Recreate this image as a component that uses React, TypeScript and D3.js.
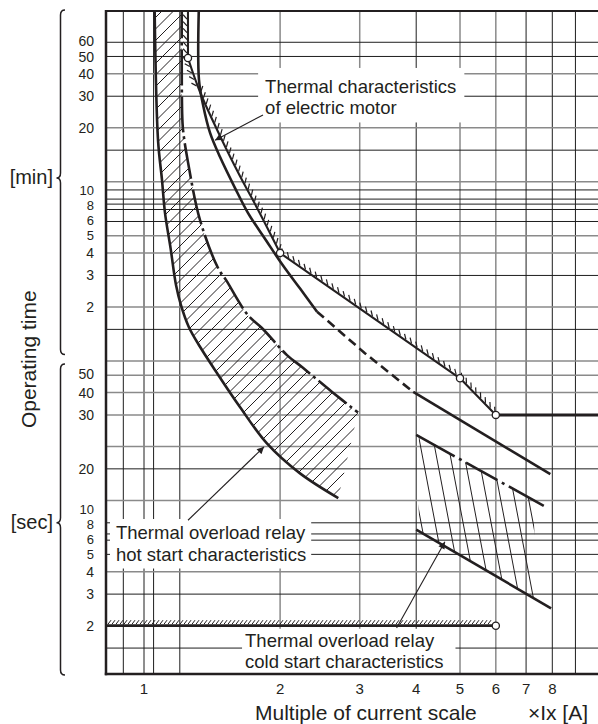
import React, { useEffect, useRef } from 'react';
import * as d3 from 'd3';

const WIDTH = 598;
const HEIGHT = 724;
const PLOT = { left: 106, top: 11, right: 600, bottom: 674 };

// current multiple (log) and operating time in seconds (log)
const X_DOMAIN = [0.824, 10.2];
const Y_DOMAIN = [5380, 1.075];

const xGridValues = [0.9, 1, 1.05, 1.2, 2, 3, 4, 5, 6, 7, 8, 9];
const xGridGray = [2, 3, 5, 6];
const xTickLabels = [1, 2, 3, 4, 5, 6, 7, 8];

const yGridMinutes = [60, 50, 40, 30, 20, 15, 10, 9, 8, 7.5, 7, 6, 5, 4, 3, 2, 1.5];
const yGridMinutesGray = [40, 20, 10, 5, 4, 2];
const yGridSeconds = [60, 50, 40, 30, 20, 15, 10, 7.5, 6.5, 6, 5, 4, 3, 1.5];
const yGridSecondsGray = [60, 50, 40, 30, 20, 10, 4];

// [text, minutes, nudge px]
const minuteLabels: [string, number, number][] = [['60', 60, -1.5], ['50', 50, 0.5], ['40', 40, 0], ['30', 30, 0], ['20', 20, 0], ['4', 4, 0], ['3', 3, 0], ['2', 2, 0]];
const minuteStack = ['10', '8', '6', '5'];
const minuteStackAnchor = 5;
// [text, seconds, nudge px]
const secondLabels: [string, number, number][] = [['50', 50, -1], ['40', 40, 0], ['30', 30, 0], ['20', 15, 0], ['4', 4, 0], ['3', 3, 0], ['2', 2, 0]];
const secondStack = ['10', '8', '6', '5'];
const secondStackAnchor = 5;

// [multiple, seconds]
const hotStartLower: [number, number][] = [
  [1.055, 6000], [1.074, 1025], [1.096, 613], [1.113, 401], [1.145, 255], [1.177, 159], [1.207, 123],
  [1.257, 92.6], [1.33, 72], [1.45, 51.4], [1.63, 33.2], [1.87, 20.8], [2.21, 14.2], [2.69, 10.3],
];
const hotStartUpper: [number, number][] = [
  [1.212, 6000], [1.214, 1507], [1.22, 1166], [1.251, 772], [1.33, 367], [1.458, 198], [1.518, 170],
  [1.698, 108], [1.823, 91.6], [2.071, 64.7], [2.236, 55.5], [2.606, 40.3], [2.974, 30.9],
];
const motorVertical: [number, number][] = [[1.251, 6000], [1.251, 2940]];
const motorCurve: [number, number][] = [[1.251, 2940], [1.33, 1900], [1.488, 1023], [1.63, 646], [1.787, 419], [2, 240]];
const motorStraight: [number, number][] = [[2, 240], [5, 48], [6, 30]];
const motorFlat: [number, number][] = [[6, 30], [10.5, 30]];
const motorSideSwitch = 1950;

const relaySolidA: [number, number][] = [
  [1.323, 6000], [1.323, 2218], [1.351, 1609], [1.4, 1123], [1.473, 824], [1.59, 553], [1.699, 401],
  [1.861, 283], [2.028, 205], [2.214, 152], [2.414, 113],
];
const relayDashed: [number, number][] = [[2.414, 113], [3.08, 66.3], [3.94, 40.3]];
const relaySolidB: [number, number][] = [[3.94, 40.3], [7.92, 14.0]];

const coldTop: [number, number][] = [[4.0, 23.2], [7.82, 9.05]];
const coldBottom: [number, number][] = [[4.0, 6.87], [7.95, 2.5]];
const coldHatchSpan = [4.05, 7.3];

const instantLine: [number, number][] = [[0.824, 2], [6, 2]];
const markerPoints: [number, number][] = [[1.251, 2940], [2, 240], [5, 48], [6, 30], [6, 2]];

const annotations = [
  { lines: ['Thermal characteristics', 'of electric motor'], at: [1.853, 1877], pad: [8, 8, 4, 7], from: [1.833, 1414], to: [1.436, 1023] },
  { lines: ['Thermal overload relay', 'hot start characteristics'], at: [0.867, 6.09], pad: [3, 5, 4, 6], from: [1.251, 7.75], to: [1.843, 19.9] },
  { lines: ['Thermal overload relay', 'cold start characteristics'], at: [1.673, 1.525], pad: [1, 12, 6, 3], from: [3.62, 1.94], to: [4.63, 5.88] },
];

const braces = [
  { label: '[min]', top: 5380, tip: 630, bottom: 66 },
  { label: '[sec]', top: 57, tip: 7.5, bottom: 1.075 },
];

const INK = '#231f20';
const FONT = '"Liberation Sans", Arial, Helvetica, sans-serif';

export default function App() {
  const ref = useRef<SVGSVGElement>(null);

  useEffect(() => {
    const svgEl = ref.current;
    if (!svgEl) return;
    const svg = d3.select(svgEl);
    svg.selectAll('*').remove();

    const x = d3.scaleLog().domain(X_DOMAIN).range([PLOT.left, PLOT.right]);
    const y = d3.scaleLog().domain(Y_DOMAIN).range([PLOT.top, PLOT.bottom]);
    const P = (d: number[]): [number, number] => [x(d[0]), y(d[1])];
    const smooth = d3.line().curve(d3.curveCatmullRom.alpha(0.5));
    const straight = d3.line();

    const defs = svg.append('defs');
    defs.append('clipPath').attr('id', 'plot-clip').append('rect')
      .attr('x', PLOT.left).attr('y', PLOT.top)
      .attr('width', PLOT.right - PLOT.left).attr('height', PLOT.bottom - PLOT.top);
    defs.append('marker').attr('id', 'arrow-head')
      .attr('viewBox', '0 0 10 10').attr('refX', 10).attr('refY', 5)
      .attr('markerWidth', 9).attr('markerHeight', 7).attr('markerUnits', 'userSpaceOnUse')
      .attr('orient', 'auto')
      .append('path').attr('d', 'M0,0 L10,5 L0,10 Z').attr('fill', INK);

    const gridLayer = svg.append('g').attr('clip-path', 'url(#plot-clip)');
    const boxLayer = svg.append('g');
    const hatchLayer = svg.append('g').attr('clip-path', 'url(#plot-clip)');
    const curveLayer = svg.append('g').attr('clip-path', 'url(#plot-clip)');
    const frameLayer = svg.append('g');
    const annoLayer = svg.append('g');
    const markLayer = svg.append('g');
    const textLayer = svg.append('g').attr('font-family', FONT).attr('fill', INK);

    // grid
    xGridValues.forEach((v) => {
      const gray = xGridGray.includes(v);
      gridLayer.append('line')
        .attr('x1', x(v)).attr('x2', x(v)).attr('y1', PLOT.top).attr('y2', PLOT.bottom)
        .attr('stroke', gray ? '#8a8a8a' : '#1e1e1e').attr('stroke-width', gray ? 1.5 : 1);
    });
    const hLine = (t: number, gray: boolean) => {
      gridLayer.append('line')
        .attr('x1', PLOT.left).attr('x2', PLOT.right).attr('y1', y(t)).attr('y2', y(t))
        .attr('stroke', gray ? '#8a8a8a' : '#1e1e1e').attr('stroke-width', gray ? 1.5 : 1);
    };
    yGridMinutes.forEach((m) => hLine(m * 60, yGridMinutesGray.includes(m)));
    yGridSeconds.forEach((s) => hLine(s, yGridSecondsGray.includes(s)));

    // hot start hatch region
    const lowerPx = hotStartLower.map(P);
    const upperPx = hotStartUpper.map(P);
    const hotPoly = (smooth(lowerPx) as string) + 'L' + (smooth(upperPx.slice().reverse()) as string).slice(1) + 'Z';
    defs.append('clipPath').attr('id', 'hot-clip').append('path').attr('d', hotPoly);
    const hotG = hatchLayer.append('g').attr('clip-path', 'url(#hot-clip)');
    for (let c = 150; c < 900; c += 11.5) {
      hotG.append('line')
        .attr('x1', 100).attr('y1', c - 100).attr('x2', 420).attr('y2', c - 420)
        .attr('stroke', INK).attr('stroke-width', 1);
    }

    // cold start hatch region
    const interp = (seg: [number, number][], v: number): [number, number] => {
      const [a, b] = seg;
      const f = (Math.log(v) - Math.log(a[0])) / (Math.log(b[0]) - Math.log(a[0]));
      return [v, Math.exp(Math.log(a[1]) + f * (Math.log(b[1]) - Math.log(a[1])))];
    };
    const cTL = P(interp(coldTop, coldHatchSpan[0]));
    const cTR = P(interp(coldTop, coldHatchSpan[1]));
    const cBR = P(interp(coldBottom, coldHatchSpan[1]));
    const cBL = P(interp(coldBottom, coldHatchSpan[0]));
    defs.append('clipPath').attr('id', 'cold-clip').append('path')
      .attr('d', `M${cTL}L${cTR}L${cBR}L${cBL}Z`);
    const coldG = hatchLayer.append('g').attr('clip-path', 'url(#cold-clip)');
    const slant = 0.19;
    for (let k = -3; k < 12; k++) {
      const x0 = cTL[0] + k * 14;
      coldG.append('line')
        .attr('x1', x0 + slant * (380 - cTL[1])).attr('y1', 380)
        .attr('x2', x0 + slant * (660 - cTL[1])).attr('y2', 660)
        .attr('stroke', INK).attr('stroke-width', 1);
    }

    // curves
    const stroke = (sel: any, w: number, dash?: string) => {
      sel.attr('fill', 'none').attr('stroke', INK).attr('stroke-width', w)
        .attr('stroke-linejoin', 'round');
      if (dash) sel.attr('stroke-dasharray', dash);
      return sel;
    };
    stroke(curveLayer.append('path').attr('d', smooth(lowerPx)), 2.6);
    stroke(curveLayer.append('path').attr('d', smooth(upperPx)), 2.6, '36 4 3 4');
    stroke(curveLayer.append('path').attr('d', smooth(relaySolidA.map(P))), 2.6);
    stroke(curveLayer.append('path').attr('d', straight(relayDashed.map(P))), 2.6, '9 5');
    stroke(curveLayer.append('path').attr('d', straight(relaySolidB.map(P))), 2.6);
    stroke(curveLayer.append('path').attr('d', straight(coldTop.map(P))), 2.6, '44 5 3 5 36 5 3 5 40');
    stroke(curveLayer.append('path').attr('d', straight(coldBottom.map(P))), 2.6);

    // motor characteristic with hatch ticks
    const motorAd = (straight(motorVertical.map(P)) as string) + 'L' + (smooth(motorCurve.map(P)) as string).slice(1);
    const motorA = stroke(curveLayer.append('path').attr('d', motorAd), 2.1);
    const motorB = stroke(curveLayer.append('path').attr('d', straight(motorStraight.map(P))), 2.1);
    stroke(curveLayer.append('path').attr('d', straight(motorFlat.map(P))), 3);
    const switchY = y(motorSideSwitch);
    const addTicks = (node: SVGPathElement, sideFn: (py: number) => number) => {
      const total = node.getTotalLength();
      const len = 6.5;
      const a = (42 * Math.PI) / 180;
      for (let s = 3; s < total - 1; s += 6.8) {
        const p = node.getPointAtLength(s);
        const q1 = node.getPointAtLength(Math.min(total, s + 0.6));
        const q0 = node.getPointAtLength(Math.max(0, s - 0.6));
        let dx = q1.x - q0.x;
        let dy = q1.y - q0.y;
        const L = Math.hypot(dx, dy) || 1;
        dx /= L; dy /= L;
        const side = sideFn(p.y);
        const nx = dy * side;
        const ny = -dx * side;
        const tx = Math.cos(a) * nx - Math.sin(a) * dx;
        const ty = Math.cos(a) * ny - Math.sin(a) * dy;
        if (p.y < PLOT.top + 2) continue;
        curveLayer.append('line')
          .attr('x1', p.x + nx).attr('y1', p.y + ny)
          .attr('x2', p.x + tx * len).attr('y2', p.y + ty * len)
          .attr('stroke', INK).attr('stroke-width', 1.2);
      }
    };
    addTicks(motorA.node(), (py) => (py < switchY ? -1 : 1));
    addTicks(motorB.node(), () => 1);

    // 2 s instantaneous line
    const instPx = instantLine.map(P);
    stroke(curveLayer.append('path').attr('d', straight(instPx)), 2.8);
    for (let px = instPx[0][0] + 2; px < instPx[1][0] - 4; px += 4) {
      curveLayer.append('line')
        .attr('x1', px).attr('y1', instPx[0][1] - 1.5)
        .attr('x2', px + 3).attr('y2', instPx[0][1] - 5.5)
        .attr('stroke', INK).attr('stroke-width', 1);
    }

    // frame
    frameLayer.append('line').attr('x1', PLOT.left).attr('x2', PLOT.left)
      .attr('y1', PLOT.top - 1).attr('y2', PLOT.bottom + 1.2)
      .attr('stroke', INK).attr('stroke-width', 2.5);
    frameLayer.append('line').attr('x1', PLOT.left).attr('x2', PLOT.right)
      .attr('y1', PLOT.top).attr('y2', PLOT.top)
      .attr('stroke', INK).attr('stroke-width', 2.2);
    frameLayer.append('line').attr('x1', PLOT.left - 1.2).attr('x2', PLOT.right)
      .attr('y1', PLOT.bottom).attr('y2', PLOT.bottom)
      .attr('stroke', INK).attr('stroke-width', 2.5);

    // markers
    markerPoints.forEach((d) => {
      const [cx, cy] = P(d);
      markLayer.append('circle').attr('cx', cx).attr('cy', cy).attr('r', 3.6)
        .attr('fill', '#fff').attr('stroke', INK).attr('stroke-width', 1.3);
    });

    // annotations
    annotations.forEach((a) => {
      const [ax, ay] = P(a.at);
      const t = textLayer.append('text').attr('font-size', 18.5);
      a.lines.forEach((ln, i) => {
        t.append('tspan').attr('x', ax).attr('y', ay + i * 21.5).text(ln);
      });
      const bb = (t.node() as SVGTextElement).getBBox();
      const [pt, pr, pb, pl] = a.pad;
      boxLayer.append('rect')
        .attr('x', bb.x - pl).attr('y', bb.y - pt)
        .attr('width', bb.width + pl + pr).attr('height', bb.height + pt + pb)
        .attr('fill', '#fff');
      const [fx, fy] = P(a.from);
      const [tx, ty] = P(a.to);
      annoLayer.append('line').attr('x1', fx).attr('y1', fy).attr('x2', tx).attr('y2', ty)
        .attr('stroke', INK).attr('stroke-width', 1.1).attr('marker-end', 'url(#arrow-head)');
    });

    // y tick labels
    const yLab = (text: string, py: number, size = 14) => {
      textLayer.append('text').attr('x', 94).attr('y', py).attr('dy', '0.36em')
        .attr('text-anchor', 'end').attr('font-size', size).text(text);
    };
    const yStack = (items: string[], bottomPy: number) => {
      const n = items.length;
      items.forEach((s, i) => yLab(s, bottomPy - (n - 1 - i) * 15, 13));
    };
    minuteLabels.forEach(([s, m, nudge]) => yLab(s, y(m * 60) + nudge));
    yStack(minuteStack, y(minuteStackAnchor * 60));
    secondLabels.forEach(([s, v, nudge]) => yLab(s, y(v) + nudge));
    yStack(secondStack, y(secondStackAnchor));

    // x tick labels
    xTickLabels.forEach((v) => {
      textLayer.append('text').attr('x', x(v)).attr('y', 693.5)
        .attr('text-anchor', 'middle').attr('font-size', 15).text(String(v));
    });

    // axis titles
    textLayer.append('text').attr('x', 255).attr('y', 720).attr('font-size', 21)
      .text('Multiple of current scale');
    textLayer.append('text').attr('x', 588).attr('y', 720).attr('font-size', 21)
      .attr('text-anchor', 'end').text('\u00d7Ix [A]');
    textLayer.append('text')
      .attr('transform', `translate(36,${(y(braces[0].bottom) + y(braces[1].top)) / 2}) rotate(-90)`)
      .attr('text-anchor', 'middle').attr('font-size', 21).text('Operating time');

    // braces
    braces.forEach((b) => {
      const top = Math.max(y(b.top), PLOT.top) - 1;
      const tip = y(b.tip);
      const bottom = Math.min(y(b.bottom), PLOT.bottom) + 1;
      const xr = 65, xm = 60.5, xl = 56.5, r = 5;
      const d = `M${xr},${top} Q${xm},${top} ${xm},${top + r} L${xm},${tip - r} Q${xm},${tip} ${xl},${tip} Q${xm},${tip} ${xm},${tip + r} L${xm},${bottom - r} Q${xm},${bottom} ${xr},${bottom}`;
      frameLayer.append('path').attr('d', d).attr('fill', 'none')
        .attr('stroke', INK).attr('stroke-width', 1.5);
      textLayer.append('text').attr('x', 53).attr('y', tip).attr('dy', '0.3em')
        .attr('text-anchor', 'end').attr('font-size', 20).text(b.label);
    });
  }, []);

  return (
    <svg
      ref={ref}
      width={WIDTH}
      height={HEIGHT}
      viewBox={`0 0 ${WIDTH} ${HEIGHT}`}
      style={{ position: 'absolute', left: 0, top: 0, background: '#fff', display: 'block' }}
    />
  );
}
